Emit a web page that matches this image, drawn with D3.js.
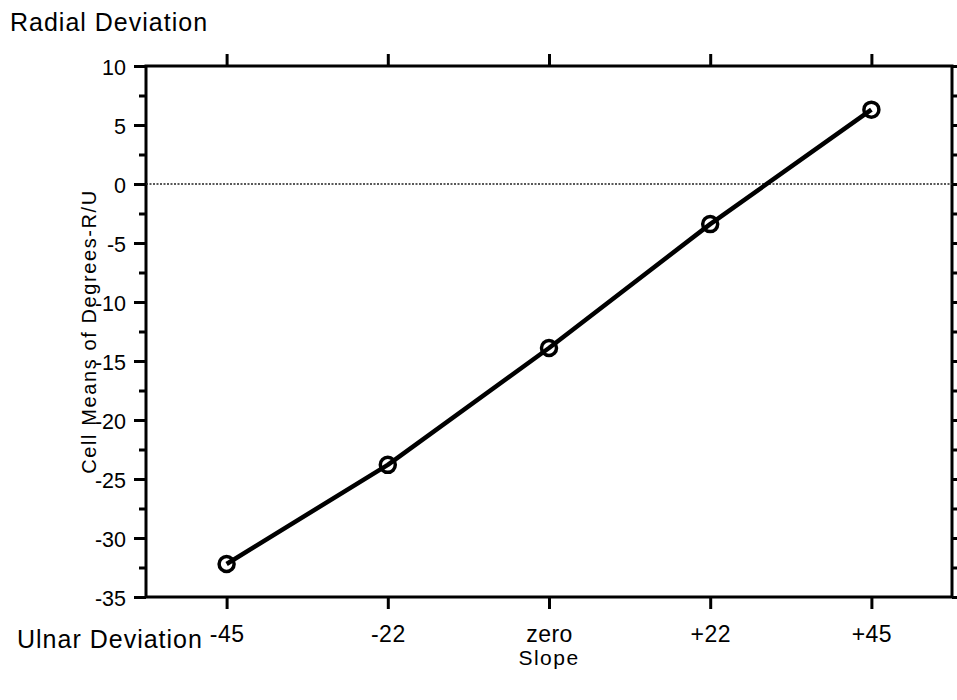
<!DOCTYPE html>
<html>
<head>
<meta charset="utf-8">
<script src="https://cdn.jsdelivr.net/npm/d3@7"></script>
<style>
  html, body { margin: 0; padding: 0; background: #fff; }
  svg { display: block; }
  text { font-family: "Liberation Sans", Arial, Helvetica, sans-serif; fill: #000; }
</style>
</head>
<body>
<svg id="chart" width="957" height="700"></svg>
<script>
// Slope conditions and mean radial/ulnar deviation (degrees)
const slopes = ["-45", "-22", "zero", "+22", "+45"];
const cellMeans = [-32.2, -23.8, -13.9, -3.4, 6.3];
const yMajorTicks = [10, 5, 0, -5, -10, -15, -20, -25, -30, -35];
const yMinorTicks = [7.5, 2.5, -2.5, -7.5, -12.5, -17.5, -22.5, -27.5, -32.5];

const svg = d3.select("#chart");
const frame = { left: 146, right: 952, top: 66, bottom: 597 };

const x = d3.scalePoint().domain(slopes).range([frame.left, frame.right]).padding(0.5);
const y = d3.scaleLinear().domain([-35, 10]).range([frame.bottom, frame.top]);

const axisStroke = 3;
const labelFont = "Liberation Sans, Arial, sans-serif";

function styleAxis(g) {
  g.select(".domain").remove();
  g.selectAll(".tick line").attr("stroke", "#000").attr("stroke-width", axisStroke);
}

// Left axis: major ticks with labels (plain hyphen minus), minor ticks without
svg.append("g")
  .attr("transform", `translate(${frame.left},0)`)
  .call(d3.axisLeft(y).tickValues(yMajorTicks).tickSize(12).tickPadding(8).tickFormat(d => String(d)))
  .call(styleAxis)
  .call(g => g.selectAll(".tick text")
    .attr("font-size", 21.5).attr("dy", "0.41em").attr("font-family", labelFont));
svg.append("g")
  .attr("transform", `translate(${frame.left},0)`)
  .call(d3.axisLeft(y).tickValues(yMinorTicks).tickSize(7).tickFormat(""))
  .call(styleAxis);

// Right axis: ticks only
svg.append("g")
  .attr("transform", `translate(${frame.right},0)`)
  .call(d3.axisRight(y).tickValues(yMajorTicks).tickSize(12).tickFormat(""))
  .call(styleAxis);
svg.append("g")
  .attr("transform", `translate(${frame.right},0)`)
  .call(d3.axisRight(y).tickValues(yMinorTicks).tickSize(7).tickFormat(""))
  .call(styleAxis);

// Bottom axis with category labels
svg.append("g")
  .attr("transform", `translate(0,${frame.bottom})`)
  .call(d3.axisBottom(x).tickSize(12).tickPadding(17))
  .call(styleAxis)
  .call(g => g.selectAll(".tick text")
    .attr("font-size", 23).attr("letter-spacing", "0.5px").attr("font-family", labelFont));

// Top axis: ticks only
svg.append("g")
  .attr("transform", `translate(0,${frame.top})`)
  .call(d3.axisTop(x).tickSize(12).tickFormat(""))
  .call(styleAxis);

// Plot frame
svg.append("rect")
  .attr("x", frame.left).attr("y", frame.top)
  .attr("width", frame.right - frame.left).attr("height", frame.bottom - frame.top)
  .attr("fill", "none").attr("stroke", "#000").attr("stroke-width", axisStroke);

// Dotted zero reference line
svg.append("line")
  .attr("x1", frame.left).attr("x2", frame.right)
  .attr("y1", y(0)).attr("y2", y(0))
  .attr("stroke", "#222").attr("stroke-width", 1.5).attr("stroke-dasharray", "2,1.5");

// Means line
const points = slopes.map((s, i) => ({ slope: s, value: cellMeans[i] }));
svg.append("path")
  .datum(points)
  .attr("fill", "none").attr("stroke", "#000").attr("stroke-width", 4.5)
  .attr("stroke-linejoin", "round")
  .attr("d", d3.line().x(d => x(d.slope)).y(d => y(d.value)));

// Open circle markers
svg.append("g").selectAll("circle")
  .data(points)
  .join("circle")
  .attr("cx", d => x(d.slope)).attr("cy", d => y(d.value))
  .attr("r", 7.5).attr("fill", "none").attr("stroke", "#000").attr("stroke-width", 3.5);

// Titles and direction labels
svg.append("text")
  .attr("x", 10).attr("y", 31)
  .attr("font-size", 25).attr("letter-spacing", "1px")
  .text("Radial Deviation");

svg.append("text")
  .attr("x", 17).attr("y", 648)
  .attr("font-size", 25).attr("letter-spacing", "1px")
  .text("Ulnar Deviation");

svg.append("text")
  .attr("x", (frame.left + frame.right) / 2).attr("y", 665)
  .attr("text-anchor", "middle")
  .attr("font-size", 21).attr("letter-spacing", "1.5px")
  .text("Slope");

svg.append("text")
  .attr("transform", `translate(96,${(frame.top + frame.bottom) / 2}) rotate(-90)`)
  .attr("text-anchor", "middle")
  .attr("font-size", 20).attr("letter-spacing", "1.6px")
  .text("Cell Means of Degrees-R/U");
</script>
</body>
</html>
